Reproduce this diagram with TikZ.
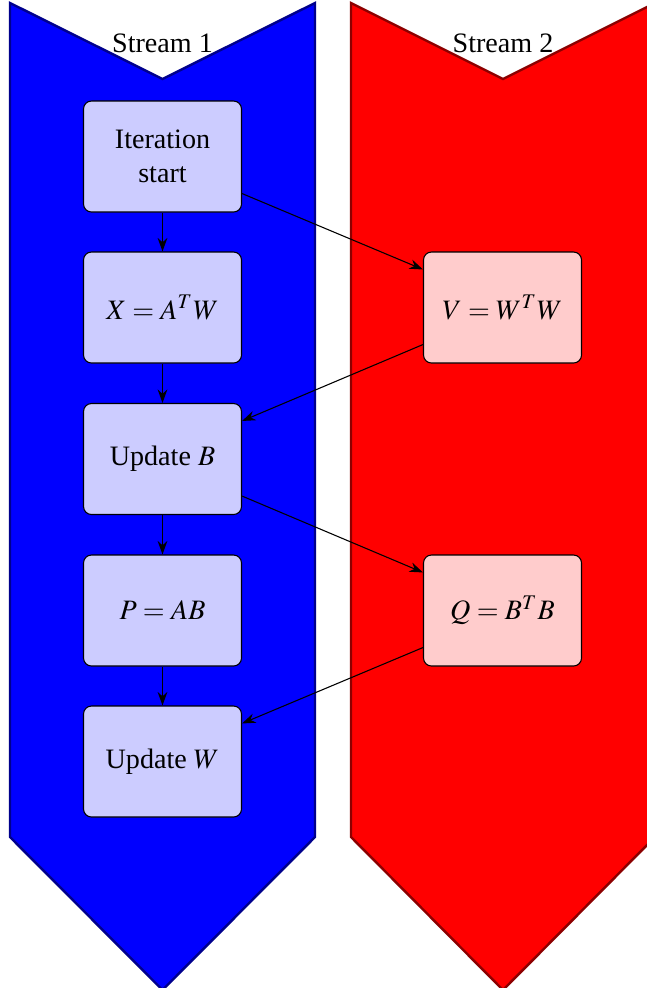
\documentclass[tikz,border=0pt]{standalone}
\usepackage{mathptmx}
\usepackage{fontspec}
\setmainfont{Liberation Serif}
\usetikzlibrary{arrows.meta,calc}
\newlength\pxu \setlength\pxu{0.37pt}
\begin{document}
\begin{tikzpicture}[x=0.37pt,y=-0.37pt,
  every node/.style={font=\fontsize{10.4}{12.6}\selectfont},
  lane/.style={line width=0.9pt, line join=miter},
  box/.style={draw=black, rounded corners=8\pxu, minimum width=158\pxu, minimum height=111\pxu, align=center, inner sep=0pt, line width=0.4pt},
  bluebox/.style={box, fill=blue!20},
  redbox/.style={box, fill=red!20},
  conn/.style={-{Stealth[length=5pt,width=3.6pt]}, line width=0.4pt}
]
\useasboundingbox (0,0) rectangle (647,988);
\clip (0,0) rectangle (647,988);
% lanes
\draw[lane, draw=blue!55!black, fill=blue] (10,3) -- (162.5,79) -- (315,3) -- (315,837) -- (162.5,990) -- (10,837) -- cycle;
\draw[lane, draw=red!55!black, fill=red] (351,3) -- (503,79) -- (655,3) -- (655,837) -- (503,990) -- (351,837) -- cycle;
\node (h1) at (162.5,43) {Stream 1};
\node (h2) at (503,43) {Stream 2};
% boxes
\node[bluebox] (s1) at (162.5,156.5) {Iteration\\start};
\node[bluebox] (s2) at (162.5,307.5) {$X=A^TW$};
\node[bluebox] (s3) at (162.5,459) {Update $B$};
\node[bluebox] (s4) at (162.5,610.5) {$P=AB$};
\node[bluebox] (s5) at (162.5,761.5) {Update $W$};
\node[redbox] (r1) at (502.5,307.5) {$V=W^TW$};
\node[redbox] (r2) at (502.5,610.5) {$Q=B^TB$};
% connectors
\draw[conn] (s1.south) -- (s2.north);
\draw[conn] (s2.south) -- (s3.north);
\draw[conn] (s3.south) -- (s4.north);
\draw[conn] (s4.south) -- (s5.north);
\draw[conn] ([yshift=19\pxu]s1.south east) -- ([yshift=-18\pxu]r1.north west);
\draw[conn] ([yshift=19\pxu]r1.south west) -- ([yshift=-18\pxu]s3.north east);
\draw[conn] ([yshift=19\pxu]s3.south east) -- ([yshift=-18\pxu]r2.north west);
\draw[conn] ([yshift=19\pxu]r2.south west) -- ([yshift=-18\pxu]s5.north east);
\end{tikzpicture}
\end{document}
